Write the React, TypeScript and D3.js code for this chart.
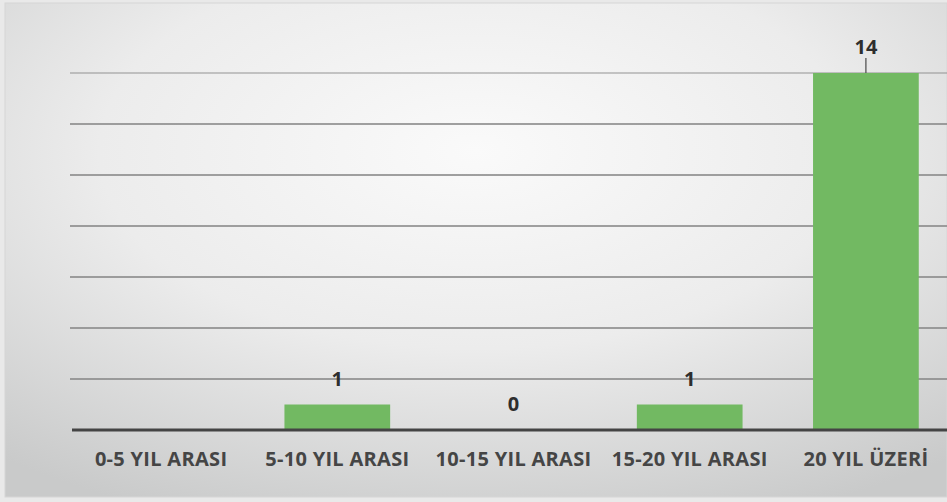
import React from "react";
import * as d3 from "d3";

const categories = ["0-5 YIL ARASI", "5-10 YIL ARASI", "10-15 YIL ARASI", "15-20 YIL ARASI", "20 YIL ÜZERİ"];
const values = [0, 1, 0, 1, 14];
const labelShown = [false, true, true, true, true];
const yTicks = [2, 4, 6, 8, 10, 12, 14];

const W = 947;
const H = 502;

export default function App() {
  const x = d3.scaleBand<string>().domain(categories).range([73, 954]).paddingInner(0.4).paddingOuter(0.2);
  const y = d3.scaleLinear().domain([0, 14]).range([430, 73]);
  const font = "'Open Sans', 'DejaVu Sans', sans-serif";
  return (
    <div style={{ position: "fixed", left: 0, top: 0, width: W, height: H }}>
      <svg width={W} height={H} viewBox={`0 0 ${W} ${H}`}>
        <defs>
          <radialGradient id="bg" cx="0.5" cy="0.3" r="0.8">
            <stop offset="0" stopColor="#fafafa" />
            <stop offset="0.5" stopColor="#ececec" />
            <stop offset="1" stopColor="#c9caca" />
          </radialGradient>
        </defs>
        <rect x={0} y={0} width={W} height={H} fill="#e9e9e9" />
        <rect x={5} y={3} width={W - 5} height={494} fill="url(#bg)" stroke="#d6d6d6" strokeWidth={1} />
        {yTicks.map((t) => (
          <line key={t} x1={70} x2={W} y1={y(t)} y2={y(t)} stroke="#8a8a8a" strokeWidth={1.8} opacity={t === 14 ? 0.45 : 0.8} />
        ))}
        {categories.map((c, i) => {
          const v = values[i];
          const bx = x(c)!;
          const bw = x.bandwidth();
          const cx = bx + bw / 2;
          return (
            <g key={c}>
              {v > 0 && <rect x={bx} y={y(v)} width={bw} height={y(0) - y(v)} fill="#72b962" />}
              {labelShown[i] && (
                <text x={cx} y={y(v) - 19} textAnchor="middle" fontFamily={font} fontWeight={700} fontSize={20} fill="#2e2e2e">
                  {v}
                </text>
              )}
              {v >= 10 && <line x1={cx} x2={cx} y1={y(v) - 15} y2={y(v)} stroke="#555" strokeWidth={1.3} />}
              <text x={cx} y={466} textAnchor="middle" fontFamily={font} fontWeight={700} fontSize={20} letterSpacing={0.3} fill="#454545">
                {c}
              </text>
            </g>
          );
        })}
        <line x1={72} x2={W} y1={y(0)} y2={y(0)} stroke="#444" strokeWidth={3} />
      </svg>
    </div>
  );
}
